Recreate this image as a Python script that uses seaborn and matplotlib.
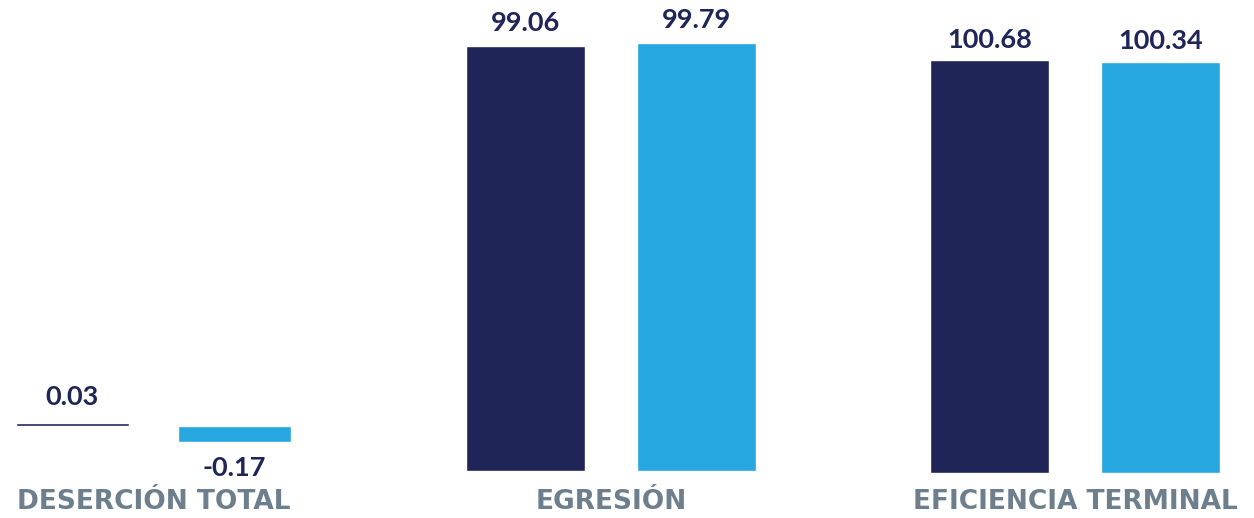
import numpy as np
import pandas as pd
import matplotlib
matplotlib.use("Agg")
import matplotlib.pyplot as plt
import matplotlib.transforms as mtransforms
import seaborn as sns

# datos
categorias = ['DESERCIÓN TOTAL', 'EGRESIÓN', 'EFICIENCIA TERMINAL']
series = ['Serie 1', 'Serie 2']
valores_serie1 = [0.03, 99.06, 100.68]
valores_serie2 = [-0.17, 99.79, 100.34]

azul_oscuro = '#1f2557'
azul_claro = '#27a7df'
gris = '#6d7f8c'

df = pd.DataFrame({
    'categoria': categorias * 2,
    'serie': [series[0]] * 3 + [series[1]] * 3,
    'valor': valores_serie1 + valores_serie2,
})

sns.set_theme(style='white')
plt.rcParams['font.family'] = ['Lato', 'DejaVu Sans']

W, H = 1254, 518
fig = plt.figure(figsize=(W / 100, H / 100), dpi=100)

# cada panel tiene su propia escala: centro x (px), px por unidad x,
# linea del cero (px desde arriba), px por unidad y, limites y, padding etiqueta
paneles = [
    dict(cx=153.5, sx=405, cero=426, sy=95.0, ylim=(-0.5, 0.5), pad=10),
    dict(cx=611, sx=426, cero=471, sy=4.29, ylim=(0, 109), pad=8),
    dict(cx=1075, sx=426, cero=473, sy=4.1, ylim=(0, 112), pad=6),
]

for cat, p in zip(categorias, paneles):
    x0, x1 = -0.36, 0.36
    y0, y1 = p['ylim']
    ancho = (x1 - x0) * p['sx']
    alto = (y1 - y0) * p['sy']
    izq = p['cx'] - (0 - x0) * p['sx']
    abajo = p['cero'] - y0 * p['sy']
    ax = fig.add_axes([izq / W, (H - abajo) / H, ancho / W, alto / H])

    sub = df[df['categoria'] == cat]
    sns.barplot(data=sub, x='categoria', y='valor', hue='serie',
                palette=[azul_oscuro, azul_claro], saturation=1,
                width=0.8, gap=0.3, legend=False, ax=ax)
    ax.set_xlim(x0, x1)
    ax.set_ylim(y0, y1)
    for c in ax.containers:
        ax.bar_label(c, fmt='%.2f', padding=p['pad'], fontsize=19.5,
                     fontweight='bold', color=azul_oscuro)
    ax.set_xticks([])
    ax.set_yticks([])
    ax.set_xlabel('')
    ax.set_ylabel('')
    sns.despine(ax=ax, left=True, bottom=True)
    ax.patch.set_alpha(0)

    trans = mtransforms.blended_transform_factory(ax.transData, fig.transFigure)
    ax.text(0, (H - 502) / H, cat, transform=trans, ha='center', va='center',
            fontsize=19, fontweight='bold', color=gris, clip_on=False,
            family=['DejaVu Sans'])

fig.savefig('out.png', dpi=100)
